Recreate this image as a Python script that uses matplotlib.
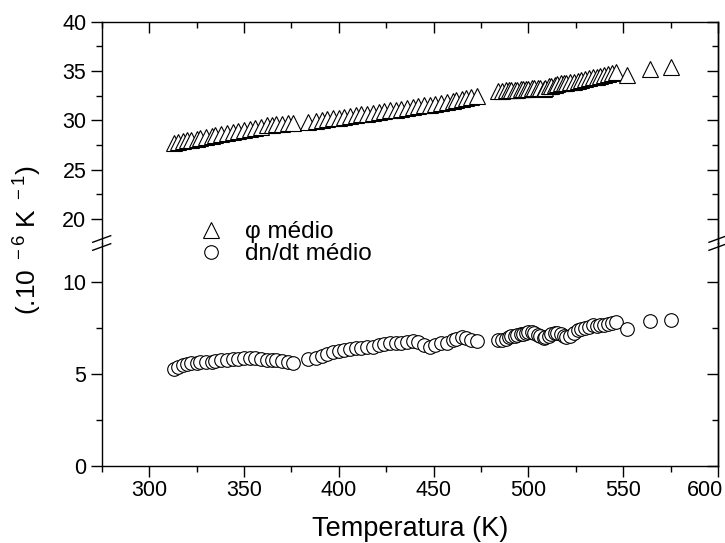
import matplotlib
matplotlib.use("Agg")
import matplotlib.pyplot as plt
from matplotlib.lines import Line2D
from matplotlib.ticker import MultipleLocator, FuncFormatter

plt.rcParams['font.family'] = ['Liberation Sans', 'DejaVu Sans']
plt.rcParams['mathtext.fontset'] = 'custom'
plt.rcParams['mathtext.rm'] = 'Liberation Sans'
plt.rcParams['mathtext.default'] = 'regular'

# temperatures (K), same for both series
temp = [313, 315, 318, 320, 322, 325, 327, 330, 333, 335, 338, 341, 344, 347, 350,
        353, 356, 359, 362, 365, 367, 370, 373, 376,
        384, 388, 391, 394, 397, 400, 403, 406, 409, 412, 415, 418, 421, 424, 427,
        430, 433, 436, 439, 442, 445, 448, 451, 454, 457, 460, 462, 465, 467, 470, 473,
        484, 486, 488, 490, 491, 493, 494, 496, 497, 499, 500, 502, 503, 505, 506,
        508, 509, 511, 512, 514, 515, 517, 519, 520, 522, 524, 526, 528, 530, 532,
        534, 536, 538, 540, 542, 544, 546,
        552, 564, 575]

# phi medio (1e-6 K^-1)
phi = [27.7, 27.8, 27.9, 28.0, 28.05, 28.15, 28.25, 28.3, 28.4, 28.5, 28.6, 28.7, 28.85, 28.95, 29.05,
       29.15, 29.25, 29.35, 29.5, 29.55, 29.6, 29.65, 29.7, 29.7,
       29.8, 29.95, 30.05, 30.1, 30.2, 30.25, 30.35, 30.4, 30.5, 30.6, 30.65, 30.7, 30.8, 30.9, 31.0,
       31.05, 31.15, 31.3, 31.4, 31.5, 31.55, 31.6, 31.7, 31.8, 31.85, 31.95, 32.05, 32.15, 32.25, 32.35, 32.45,
       33.0, 33.0, 33.05, 33.05, 33.1, 33.1, 33.1, 33.15, 33.15, 33.2, 33.2, 33.25, 33.25, 33.3, 33.25,
       33.2, 33.25, 33.45, 33.5, 33.6, 33.65, 33.8, 33.75, 33.75, 33.85, 33.9, 33.95, 34.05, 34.15, 34.25,
       34.35, 34.4, 34.45, 34.55, 34.7, 34.85, 34.95,
       34.6, 35.25, 35.4]

# dn/dt medio (1e-6 K^-1)
dndt = [5.28, 5.38, 5.48, 5.55, 5.58, 5.62, 5.65, 5.66, 5.68, 5.70, 5.74, 5.78, 5.80, 5.82, 5.86,
        5.90, 5.88, 5.82, 5.78, 5.76, 5.78, 5.72, 5.66, 5.62,
        5.80, 5.90, 5.98, 6.10, 6.18, 6.28, 6.30, 6.35, 6.40, 6.42, 6.45, 6.50, 6.58, 6.65, 6.70,
        6.68, 6.72, 6.75, 6.78, 6.75, 6.58, 6.50, 6.60, 6.68, 6.72, 6.85, 6.92, 7.00, 6.95, 6.85, 6.82,
        6.85, 6.88, 6.92, 7.00, 7.05, 7.10, 7.15, 7.18, 7.20, 7.25, 7.28, 7.30, 7.25, 7.15, 7.05,
        6.95, 7.00, 7.10, 7.18, 7.22, 7.25, 7.20, 7.08, 7.00, 7.10, 7.25, 7.40, 7.48, 7.52, 7.58,
        7.65, 7.62, 7.65, 7.68, 7.72, 7.78, 7.82,
        7.48, 7.90, 7.95]

W, H = 725, 543
fig = plt.figure(figsize=(W / 100, H / 100), dpi=100)

x_left, x_right = 101.7, 718.0
y_top, y_break, y_bot = 21.7, 243.0, 465.7

def frac(px_x, px_y):
    return px_x / W, 1 - px_y / H

l, b = frac(x_left, y_bot)
r, m = frac(x_right, y_break)
_, t = frac(x_right, y_top)
ax_lo = fig.add_axes([l, b, r - l, m - b])
ax_up = fig.add_axes([l, m, r - l, t - m])

mk = dict(linestyle='none', markerfacecolor='white', markeredgecolor='black', markeredgewidth=0.8)
ax_up.plot(temp, phi, marker='^', markersize=11.5, clip_on=False, **mk)
ax_lo.plot(temp, dndt, marker='o', markersize=9.8, clip_on=False, **mk)

TICK_FS = 15.5
for ax in (ax_lo, ax_up):
    ax.set_xlim(275, 600)
    ax.xaxis.set_major_locator(MultipleLocator(50))
    ax.xaxis.set_minor_locator(MultipleLocator(25))
    ax.yaxis.set_minor_locator(MultipleLocator(2.5))
    for s in ax.spines.values():
        s.set_linewidth(1.0)
    ax.tick_params(axis='y', which='both', direction='out', left=True, right=False,
                   labelsize=TICK_FS, width=1.0, pad=3)
    ax.tick_params(axis='y', which='major', length=8)
    ax.tick_params(axis='y', which='minor', length=4)

ax_lo.set_ylim(0, (y_bot - y_break) / 18.33)
ax_lo.set_yticks([0, 5, 10])
ax_up.set_ylim(20 - (y_break - 219.0) / 9.87, 40)
ax_up.set_yticks([20, 25, 30, 35, 40])

ax_lo.spines['top'].set_visible(False)
ax_up.spines['bottom'].set_visible(False)

ax_lo.tick_params(axis='x', which='both', direction='out', bottom=True, top=False,
                  labelsize=TICK_FS, width=1.0, pad=2)
ax_lo.tick_params(axis='x', which='major', length=8)
ax_lo.tick_params(axis='x', which='minor', length=4)
# the 600 label is written separately so it stays inside the canvas
ax_lo.xaxis.set_major_formatter(FuncFormatter(lambda v, p: '' if v >= 600 else f'{v:.0f}'))
fig.text(705 / W, 1 - 491 / H, '600', ha='center', va='center', fontsize=TICK_FS)

ax_up.tick_params(axis='x', which='both', direction='in', bottom=False, top=True,
                  labelbottom=False, labeltop=False, width=1.0)
ax_up.tick_params(axis='x', which='major', length=8)
ax_up.tick_params(axis='x', which='minor', length=4)

# right side ticks pointing inwards
for ax in (ax_lo, ax_up):
    sec = ax.secondary_yaxis('right')
    sec.yaxis.set_major_locator(MultipleLocator(5))
    sec.yaxis.set_minor_locator(MultipleLocator(2.5))
    sec.tick_params(axis='y', which='both', direction='in', labelright=False, width=1.0)
    sec.tick_params(axis='y', which='major', length=8)
    sec.tick_params(axis='y', which='minor', length=4)
    sec.spines['right'].set_linewidth(1.0)

ax_lo.set_xlabel('Temperatura (K)', fontsize=19.5, labelpad=11)
fig.text(28 / W, 1 - 240 / H, r'(.10$^{\ -6}$ K$^{\ -1}$)', rotation=90,
         ha='center', va='center', fontsize=19)

# axis break marks
for xb in (x_left, x_right):
    for dy in (-4.0, 4.0):
        x0, y0 = frac(xb - 9, y_break + dy + 3.3)
        x1, y1 = frac(xb + 9, y_break + dy - 3.3)
        fig.add_artist(Line2D([x0, x1], [y0, y1], color='black', linewidth=1.0))

handles = [Line2D([], [], marker='^', markersize=11.5, **mk),
           Line2D([], [], marker='o', markersize=9.8, **mk)]
fig.legend(handles, ['φ médio', 'dn/dt médio'], loc='upper left',
           bbox_to_anchor=frac(184, 209), frameon=False, fontsize=17.5,
           handlelength=1.2, handletextpad=0.8, labelspacing=0.0, borderpad=0)

fig.savefig('out.png', dpi=100)
